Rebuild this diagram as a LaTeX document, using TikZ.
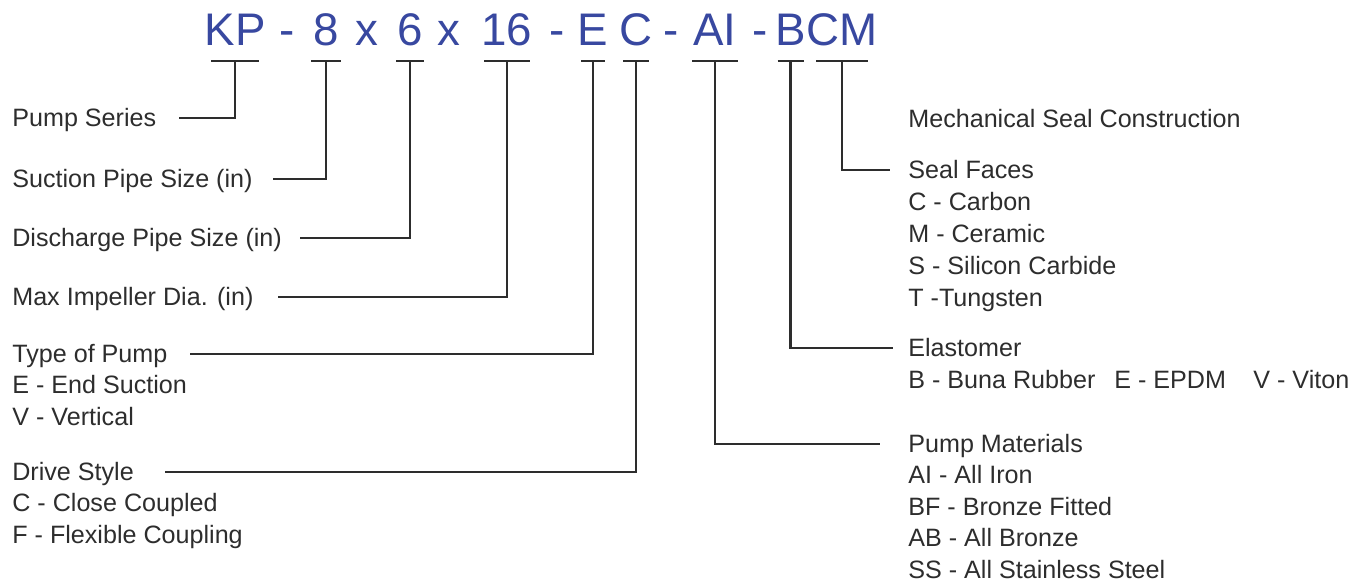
\documentclass[tikz,border=0pt]{standalone}
\usepackage{fontspec}
\setmainfont{Liberation Sans}
\usetikzlibrary{calc}
\definecolor{codeblue}{RGB}{56,72,160}
\definecolor{inkgray}{RGB}{45,45,45}

\begin{document}
\begin{tikzpicture}[x=0.02cm, y=-0.02cm, line cap=butt, line join=miter]
\tikzset{code/.style={anchor=base, inner sep=0pt, text=codeblue, font=\fontsize{26pt}{30pt}\selectfont},
  lbl/.style={anchor=base west, inner sep=0pt, text height=0.32cm, text depth=0pt, text=inkgray, font=\fontsize{14.3pt}{17pt}\selectfont},
  lead/.style={draw=inkgray, line width=1.5pt}}

\useasboundingbox (0,0) rectangle (1369,583);

% model code (px grid, y down)
\node[code] (kp)  at (235,45) {KP};
\node[code] (d1)  at (287,45) {-};
\node[code] (c8)  at (326,45) {8};
\node[code] (x1)  at (367,45) {x};
\node[code] (c6)  at (410,45) {6};
\node[code] (x2)  at (449,45) {x};
\node[code] (c16) at (507,45) {16};
\node[code] (d2)  at (557,45) {-};
\node[code] (ce)  at (593,45) {E};
\node[code] (cc)  at (636,45) {C};
\node[code] (d3)  at (671,45) {-};
\node[code] (cai) at (715,45) {AI};
\node[code] (d4)  at (760,45) {-};
\node[code,anchor=base west] (cb)  at (775,45) {B};
\node[code,anchor=base west] (ccm) at (cb.base east) {CM};

% tick row
\coordinate (tickrow) at (0,61);
\foreach \c/\w in {kp/24, c8/15, c6/14, c16/23, ce/12, cc/13, cai/23, cb/13, ccm/26}
  \draw[lead] ($(\c.base |- tickrow)+(-\w,0)$) -- ++(2*\w,0);

% left labels
\node[lbl] (ps) at (12,126) {Pump Series};
\node[lbl] (sp) at (12,187) {Suction Pipe Size (in)};
\node[lbl] (dp) at (12,246) {Discharge Pipe Size (in)};
\node[lbl] (mi) at (12,305) {Max Impeller Dia. (in)};
\node[lbl] (tp) at (12,362) {Type of Pump};
\foreach \t [count=\i] in {E - End Suction, V - Vertical}
  \node[lbl] (tp\i) at (12,362+31.5*\i) {\t};
\node[lbl] (ds) at (12,480) {Drive Style};
\foreach \t [count=\i] in {C - Close Coupled, F - Flexible Coupling}
  \node[lbl] (ds\i) at (12,480+31.5*\i) {\t};

% right labels
\node[lbl] (msc) at (908,127) {Mechanical Seal Construction};
\node[lbl] (sf) at (908,178) {Seal Faces};
\foreach \t [count=\i] in {C - Carbon, M - Ceramic, S - Silicon Carbide, T -Tungsten}
  \node[lbl] (sf\i) at (908,178+32*\i) {\t};
\node[lbl] (el) at (908,356) {Elastomer};
\node[lbl] (el1) at (908,388) {B - Buna Rubber};
\node[lbl] (el2) at (1114,388) {E - EPDM};
\node[lbl] (el3) at (1253,388) {V - Viton};
\node[lbl] (pm) at (908,452) {Pump Materials};
\foreach \t [count=\i] in {AI - All Iron, BF - Bronze Fitted, AB - All Bronze, SS - All Stainless Steel}
  \node[lbl] (pm\i) at (908,452+31.5*\i) {\t};

% leaders
\draw[lead] (kp.base |- tickrow)  |- ([xshift=0.44cm]ps.east);
\draw[lead] (c8.base |- tickrow)  |- ([xshift=0.40cm]sp.east);
\draw[lead] (c6.base |- tickrow)  |- ([xshift=0.36cm]dp.east);
\draw[lead] (c16.base |- tickrow) |- ([xshift=0.48cm]mi.east);
\draw[lead] (ce.base |- tickrow)  |- ([xshift=0.44cm]tp.east);
\draw[lead] (cc.base |- tickrow)  |- ([xshift=0.62cm]ds.east);
\draw[lead] (cai.base |- tickrow) |- ([xshift=-0.56cm]pm.west);
\draw[lead] (cb.base |- tickrow)  |- ([xshift=-0.30cm]el.west);
\draw[lead] (ccm.base |- tickrow) |- ([xshift=-0.36cm]sf.west);
\end{tikzpicture}
\end{document}
